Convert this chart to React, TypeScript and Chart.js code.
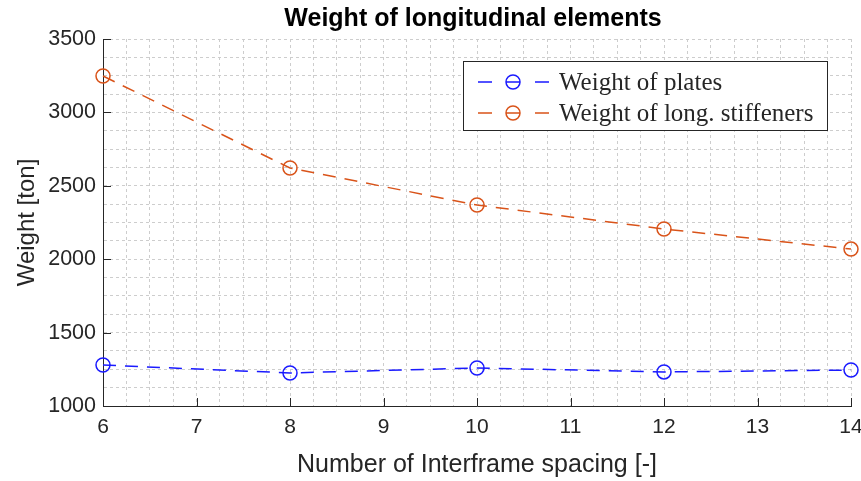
import React, { useEffect, useRef } from "react";
import { Chart, registerables } from "chart.js";

Chart.register(...registerables);

const spacing = [6, 8, 10, 12, 14];
const platesWeight = [1279, 1225, 1259, 1232, 1245];
const stiffenersWeight = [3248, 2621, 2369, 2206, 2069];
const seriesNames = ["Weight of plates", "Weight of long. stiffeners"];
const seriesColors = ["#1a1aff", "#D95319"];
const xMajorTicks = [6, 7, 8, 9, 10, 11, 12, 13, 14];
const yMajorTicks = [1000, 1500, 2000, 2500, 3000, 3500];
const titleText = "Weight of longitudinal elements";
const xTitle = "Number of Interframe spacing [-]";
const yTitle = "Weight [ton]";

const SANS = "'Liberation Sans', Arial, Helvetica, sans-serif";
const SERIF = "'Liberation Serif', 'Times New Roman', serif";
const AXIS_COLOR = "#262626";

const overlayPlugin = {
  id: "overlay",
  afterDraw(chart: any) {
    const { ctx, chartArea, scales } = chart;
    const xs = scales.x;
    const ys = scales.y;
    ctx.save();
    ctx.strokeStyle = AXIS_COLOR;
    ctx.lineWidth = 1;
    ctx.setLineDash([]);
    ctx.beginPath();
    for (const v of xMajorTicks) {
      const px = Math.round(xs.getPixelForValue(v)) + 0.5;
      ctx.moveTo(px, chartArea.bottom);
      ctx.lineTo(px, chartArea.bottom - 8);
    }
    for (const v of yMajorTicks) {
      const py = Math.round(ys.getPixelForValue(v)) + 0.5;
      ctx.moveTo(chartArea.left, py);
      ctx.lineTo(chartArea.left + 8, py);
    }
    ctx.stroke();

    ctx.fillStyle = "#000";
    ctx.font = `bold 25px ${SANS}`;
    ctx.textAlign = "center";
    ctx.textBaseline = "middle";
    ctx.fillText(titleText, (chartArea.left + chartArea.right) / 2 - 4, 19);

    const bx = 463, by = 61, bw = 364, bh = 69;
    ctx.fillStyle = "#fff";
    ctx.fillRect(bx, by, bw, bh);
    ctx.strokeStyle = "#262626";
    ctx.lineWidth = 1;
    ctx.strokeRect(bx + 0.5, by + 0.5, bw, bh);
    const rows = [by + 21, by + 52];
    ctx.font = `25px ${SERIF}`;
    ctx.textAlign = "left";
    ctx.textBaseline = "middle";
    for (let i = 0; i < 2; i++) {
      const y = rows[i];
      ctx.strokeStyle = seriesColors[i];
      ctx.lineWidth = 1.5;
      ctx.beginPath();
      ctx.moveTo(478, y);
      ctx.lineTo(492, y);
      ctx.moveTo(535, y);
      ctx.lineTo(549, y);
      ctx.stroke();
      ctx.beginPath();
      ctx.arc(513, y, 7, 0, Math.PI * 2);
      ctx.moveTo(506, y);
      ctx.lineTo(520, y);
      ctx.stroke();
      ctx.fillStyle = "#262626";
      ctx.fillText(seriesNames[i], 559, y + 1);
    }
    ctx.restore();
  },
};

export default function App() {
  const ref = useRef<HTMLCanvasElement>(null);
  useEffect(() => {
    document.body.style.margin = "0";
    const canvas = ref.current!;
    const mk = (ys: number[], i: number) => ({
      label: seriesNames[i],
      data: spacing.map((x, k) => ({ x, y: ys[k] })),
      borderColor: seriesColors[i],
      backgroundColor: "rgba(0,0,0,0)",
      borderWidth: 1.5,
      borderDash: [13, 9],
      pointStyle: "circle",
      pointRadius: 7,
      pointBorderWidth: 1.5,
      pointBorderColor: seriesColors[i],
      pointBackgroundColor: "rgba(0,0,0,0)",
      clip: false,
      tension: 0,
    });
    const chart = new Chart(canvas, {
      type: "line",
      data: { datasets: [mk(platesWeight, 0), mk(stiffenersWeight, 1)] },
      plugins: [overlayPlugin],
      options: {
        animation: false,
        responsive: false,
        maintainAspectRatio: false,
        layout: { padding: { top: 39, right: 10, left: 0, bottom: 0 } },
        plugins: { legend: { display: false }, title: { display: false }, tooltip: { enabled: false } },
        scales: {
          x: {
            type: "linear",
            min: 6,
            max: 14,
            afterFit: (s: any) => { s.height = 75; s.paddingLeft = 0; s.paddingRight = 0; },
            afterBuildTicks: (s: any) => {
              const t = [];
              for (let v = 6; v <= 14.0001; v += 0.25) t.push({ value: Math.round(v * 100) / 100 });
              s.ticks = t;
            },
            ticks: {
              autoSkip: false,
              maxRotation: 0,
              padding: 9,
              color: AXIS_COLOR,
              font: { family: SANS, size: 21 },
              callback: (v: any) => (Number.isInteger(v) ? String(v) : ""),
            },
            grid: { color: "#cdcdcd", lineWidth: 1, drawTicks: false },
            border: { display: true, color: AXIS_COLOR, width: 1, dash: [3, 3] },
            title: { display: true, text: xTitle, color: AXIS_COLOR, font: { family: SANS, size: 25 }, padding: { top: 0, bottom: 1 } },
          },
          y: {
            type: "linear",
            min: 1000,
            max: 3500,
            afterFit: (s: any) => { s.width = 103; s.paddingTop = 0; s.paddingBottom = 0; },
            afterBuildTicks: (s: any) => {
              const t = [];
              for (let v = 1000; v <= 3500; v += 125) t.push({ value: v });
              s.ticks = t;
            },
            ticks: {
              autoSkip: false,
              padding: 7,
              color: AXIS_COLOR,
              font: { family: SANS, size: 21.5 },
              callback: (v: any) => (v % 500 === 0 ? String(v) : ""),
            },
            grid: { color: "#cdcdcd", lineWidth: 1, drawTicks: false },
            border: { display: true, color: AXIS_COLOR, width: 1, dash: [3, 3] },
            title: { display: true, text: yTitle, color: AXIS_COLOR, font: { family: SANS, size: 24 }, padding: { top: 13, bottom: 0 } },
          },
        },
      } as any,
    });
    return () => chart.destroy();
  }, []);
  return (
    <div style={{ position: "absolute", left: 0, top: 0, width: 861, height: 481, background: "#fff" }}>
      <canvas ref={ref} width={861} height={481} style={{ width: 861, height: 481 }} />
    </div>
  );
}
